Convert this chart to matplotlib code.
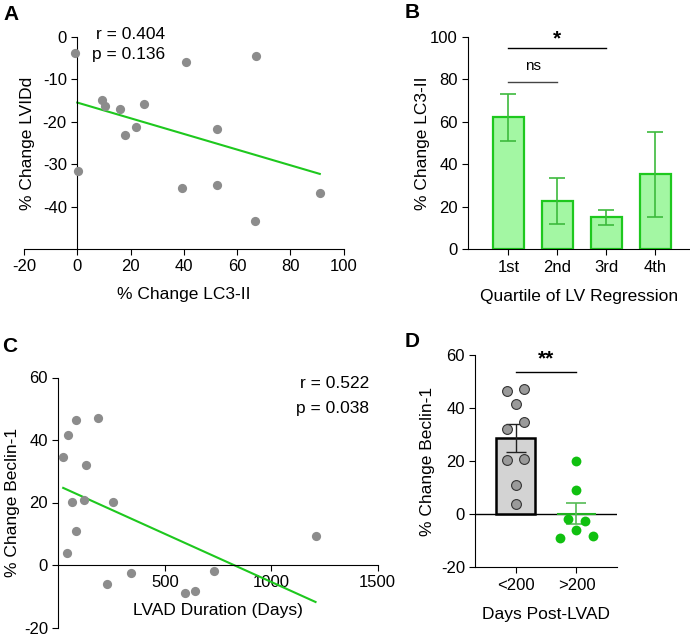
import numpy as np
import matplotlib
matplotlib.use("Agg")
import matplotlib.pyplot as plt

plt.rcParams['font.family'] = ['Liberation Sans', 'DejaVu Sans']
plt.rcParams['axes.unicode_minus'] = False
plt.rcParams['font.size'] = 12
plt.rcParams['axes.linewidth'] = 0.8
plt.rcParams['xtick.major.width'] = 0.8
plt.rcParams['ytick.major.width'] = 0.8
plt.rcParams['xtick.major.size'] = 4
plt.rcParams['ytick.major.size'] = 4

# Panel A: % change LC3-II vs % change LVIDd
lc3_change = [-0.9, 0.25, 9.4, 10.6, 15.9, 18.0, 22.1, 25.2, 39.5, 40.7, 52.5, 52.6, 66.8, 67.1, 91.1]
lvidd_change = [-3.7, -31.5, -14.8, -16.2, -16.9, -23.1, -21.3, -15.9, -35.7, -5.8, -21.7, -35.0, -43.4, -4.4, -36.9]

# Panel B: LC3-II by quartile of LV regression
quartiles = ["1st", "2nd", "3rd", "4th"]
lc3_mean = [62.0, 22.8, 15.0, 35.2]
lc3_sem = [11.1, 10.8, 3.7, 19.9]

# Panel C / D: Beclin-1 vs LVAD duration
lvad_days = [23, 39, 44, 64, 81, 81, 120, 128, 188, 230, 255, 341, 595, 641, 733, 1208]
beclin_change = [34.6, 4.0, 41.6, 20.3, 46.3, 10.9, 20.9, 31.9, 47.0, -6.1, 20.1, -2.5, -8.9, -8.3, -1.9, 9.2]
jitter_slot = [1, 0, 0, -1, -1, 0, 1, -1, 1, 0, 0, 1, -2, 2, -1, 0]
groups = ["<200", ">200"]

GRAY = "#8c8c8c"
GREEN = "#1ec81e"
W, H = 690, 637
LAB = 12.5

fig = plt.figure(figsize=(6.9, 6.37), dpi=100)


def add_axes_px(left, right, top, bottom):
    return fig.add_axes([left / W, 1 - bottom / H, (right - left) / W, (bottom - top) / H])


# ---- A ----
ax = add_axes_px(24, 343.5, 37, 249)
ax.scatter(lc3_change, lvidd_change, s=44, color=GRAY, zorder=3, linewidths=0)
x = np.array(lc3_change)
slope, icpt = np.polyfit(x, lvidd_change, 1)
xl = np.array([0, x.max()])
ax.plot(xl, slope * xl + icpt, color=GREEN, lw=1.5)
ax.set_xlim(-20, 100)
ax.set_ylim(-50, 0)
ax.spines['left'].set_position(('data', 0))
ax.spines[['top', 'right']].set_visible(False)
ax.set_xticks(range(-20, 101, 20))
ax.set_yticks(range(-40, 1, 10))
ax.set_xlabel("% Change LC3-II", fontsize=LAB)
ax.set_ylabel("% Change LVIDd", fontsize=LAB)
ax.xaxis.set_label_coords(0.5, -0.18)
ax.yaxis.set_label_coords(0.034, 0.5)
ax.text(33, 0.7, "r = 0.404", ha='right', va='center', fontsize=LAB)
ax.text(33, -4.1, "p = 0.136", ha='right', va='center', fontsize=LAB)

# ---- B ----
ax = add_axes_px(468.3, 689, 36.7, 249.3)
pos = np.arange(len(quartiles))
ax.bar(pos, lc3_mean, width=0.64, color="#a3f7a3", edgecolor=GREEN, linewidth=1.6, zorder=2)
ax.errorbar(pos, lc3_mean, yerr=lc3_sem, fmt='none', ecolor="#3dba3d", elinewidth=1.2,
            capsize=5.5, capthick=1.2, zorder=3)
ax.set_xlim(-0.82, 3.69)
ax.set_ylim(0, 100)
ax.spines[['top', 'right']].set_visible(False)
ax.set_xticks(pos)
ax.set_xticklabels(quartiles)
ax.set_yticks(range(0, 101, 20))
ax.set_xlabel("Quartile of LV Regression", fontsize=LAB)
ax.set_ylabel("% Change LC3-II", fontsize=LAB)
ax.xaxis.set_label_coords(0.5, -0.187)
ax.yaxis.set_label_coords(-0.174, 0.5)
ax.plot([0, 2], [94.7, 94.7], color='black', lw=1, clip_on=False)
ax.text(1, 99, "*", ha='center', va='center', fontsize=15, fontweight='bold')
ax.plot([0, 1], [78.8, 78.8], color='#444444', lw=1, clip_on=False)
ax.text(0.5, 86, "ns", ha='center', va='center', fontsize=11)

# ---- C ----
ax = add_axes_px(58.3, 377.7, 377.5, 627.5)
ax.scatter(lvad_days, beclin_change, s=44, color=GRAY, zorder=3, linewidths=0)
d = np.array(lvad_days)
slope, icpt = np.polyfit(d, beclin_change, 1)
dl = np.array([d.min(), d.max()])
ax.plot(dl, slope * dl + icpt, color=GREEN, lw=1.5)
ax.set_xlim(0, 1500)
ax.set_ylim(-20, 60)
ax.spines['bottom'].set_position(('data', 0))
ax.spines[['top', 'right']].set_visible(False)
ax.set_xticks([500, 1000, 1500])
ax.set_yticks(range(-20, 61, 20))
ax.set_xlabel("LVAD Duration (Days)", fontsize=LAB)
ax.set_ylabel("% Change Beclin-1", fontsize=LAB)
ax.xaxis.set_label_coords(0.5, 0.1)
ax.yaxis.set_label_coords(-0.12, 0.5)
ax.text(1458, 58, "r = 0.522", ha='right', va='center', fontsize=LAB)
ax.text(1458, 50, "p = 0.038", ha='right', va='center', fontsize=LAB)

# ---- D ----
ax = add_axes_px(475.3, 617.3, 354.7, 567.3)
b = np.array(beclin_change)
slot = np.array(jitter_slot)
low = d < 200
high = ~low
means = [b[low].mean(), b[high].mean()]
sems = [b[low].std(ddof=1) / np.sqrt(low.sum()), b[high].std(ddof=1) / np.sqrt(high.sum())]
ax.bar(0, means[0], width=0.64, color="#d3d3d3", edgecolor='black', linewidth=1.8, zorder=2)
ax.bar(1, means[1], width=0.64, color='none', edgecolor="#22b022", linewidth=1.5, zorder=2)
ax.errorbar(0, means[0], yerr=sems[0], fmt='none', ecolor='#222222', elinewidth=1,
            capsize=7, capthick=1, zorder=3)
ax.errorbar(1, means[1], yerr=sems[1], fmt='none', ecolor='#55bb55', elinewidth=1.2,
            capsize=7, capthick=1.2, zorder=3)
ax.axhline(0, color='black', lw=1, zorder=1)
ax.scatter(0 + slot[low] * 0.14, b[low], s=50, color='#9a9a9a', edgecolors='#333333',
           linewidths=0.8, zorder=4)
ax.scatter(1 + slot[high] * 0.135, b[high], s=50, color='#10c010', linewidths=0, zorder=4)
ax.set_xlim(-0.66, 1.67)
ax.set_ylim(-20, 60)
ax.spines[['top', 'right']].set_visible(False)
ax.set_xticks([0, 1])
ax.set_xticklabels(groups)
ax.set_yticks(range(-20, 61, 20))
ax.set_xlabel("Days Post-LVAD", fontsize=LAB)
ax.set_ylabel("% Change Beclin-1", fontsize=LAB)
ax.xaxis.set_label_coords(0.5, -0.189)
ax.yaxis.set_label_coords(-0.285, 0.5)
ax.plot([0, 1], [53.4, 53.4], color='black', lw=1, clip_on=False)
ax.text(0.5, 58.5, "**", ha='center', va='center', fontsize=15, fontweight='bold')

# panel letters
for lbl, (px, py) in {"A": (3, 5), "B": (405, 3), "C": (2, 337), "D": (405, 332)}.items():
    fig.text(px / W, 1 - py / H, lbl, ha='left', va='top', fontsize=15, fontweight='bold')

fig.savefig("out.png", dpi=100)
